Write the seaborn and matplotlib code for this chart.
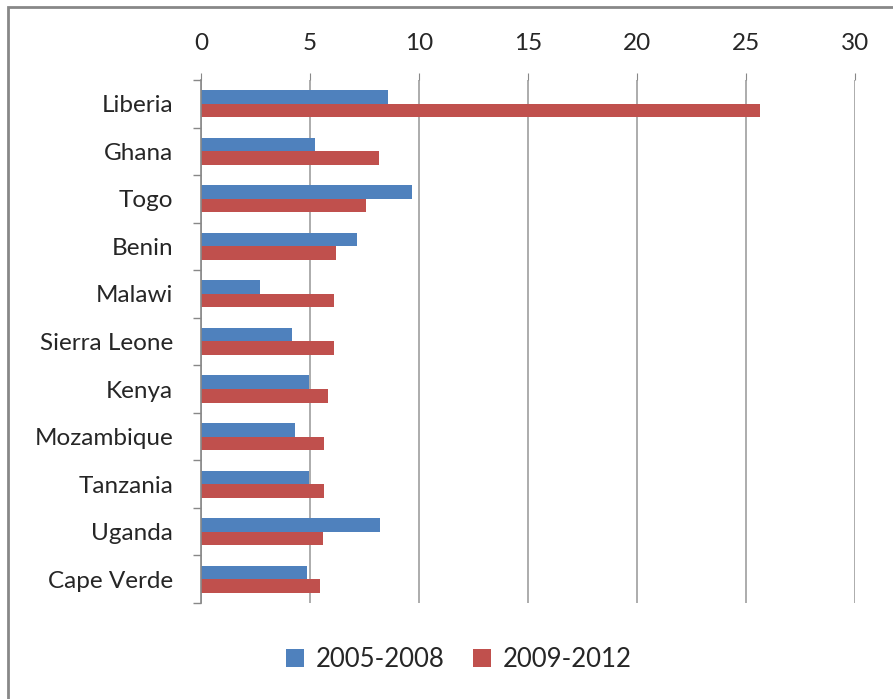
import matplotlib
matplotlib.use("Agg")
import matplotlib.pyplot as plt
import seaborn as sns
import pandas as pd
from matplotlib.patches import Rectangle

countries = ["Liberia", "Ghana", "Togo", "Benin", "Malawi", "Sierra Leone",
             "Kenya", "Mozambique", "Tanzania", "Uganda", "Cape Verde"]
v2005_2008 = [8.57, 5.23, 9.68, 7.18, 2.73, 4.20, 4.97, 4.33, 4.97, 8.21, 4.86]
v2009_2012 = [25.65, 8.16, 7.56, 6.21, 6.13, 6.09, 5.84, 5.66, 5.66, 5.60, 5.48]
series_names = ["2005-2008", "2009-2012"]
colors = ["#4F81BD", "#C0504D"]
xticks = [0, 5, 10, 15, 20, 25, 30]

df = pd.DataFrame({
    "country": countries * 2,
    "value": v2005_2008 + v2009_2012,
    "period": [series_names[0]] * len(countries) + [series_names[1]] * len(countries),
})

sns.set_style("white")
plt.rcParams['font.family'] = ['Lato', 'DejaVu Sans']

fig = plt.figure(figsize=(8.93, 6.99), dpi=100)
ax = fig.add_axes([0.225, 0.1373, 0.732, 0.7483])

sns.barplot(data=df, y="country", x="value", hue="period", orient="h",
            palette=colors, width=0.57, ax=ax, saturation=1,
            edgecolor="none", linewidth=0, legend=True)

ax.set_xlim(0, 30)
ax.set_xticks(xticks)
ax.set_xticklabels([str(t) for t in xticks], fontsize=17.5)
ax.xaxis.tick_top()
ax.xaxis.set_label_position("top")
ax.set_xlabel("")
ax.set_ylabel("")
ax.tick_params(axis="x", which="both", length=5, width=0.8, color="#888888",
               pad=14, top=True, bottom=False, direction="out")
ax.grid(axis="x", color="#A6A6A6", linewidth=1.3)
ax.grid(axis="y", visible=False)
ax.set_axisbelow(True)

n = len(countries)
ax.set_yticks(range(n))
ax.set_yticklabels(countries, fontsize=17.5)
ax.tick_params(axis="y", length=0, pad=20)
ax.set_ylim(n - 0.5, -0.5)
ax.set_yticks([i - 0.5 for i in range(n + 1)], minor=True)
ax.tick_params(axis="y", which="minor", length=6, width=1.0, color="#888888", left=True)

for s in ["top", "right", "bottom"]:
    ax.spines[s].set_visible(False)
ax.spines["left"].set_color("#888888")
ax.spines["left"].set_linewidth(1.2)

leg = ax.legend(loc="center", bbox_to_anchor=(0.514, 0.056),
                bbox_transform=fig.transFigure, ncol=2,
                frameon=False, fontsize=18.5, handlelength=0.7, handleheight=0.7,
                handletextpad=0.45, columnspacing=1.1)

fig.patches.append(Rectangle((0.009, -0.1), 1.2, 1.09, transform=fig.transFigure,
                             fill=False, edgecolor="#888888", linewidth=2))

fig.savefig("out.png", dpi=100)
